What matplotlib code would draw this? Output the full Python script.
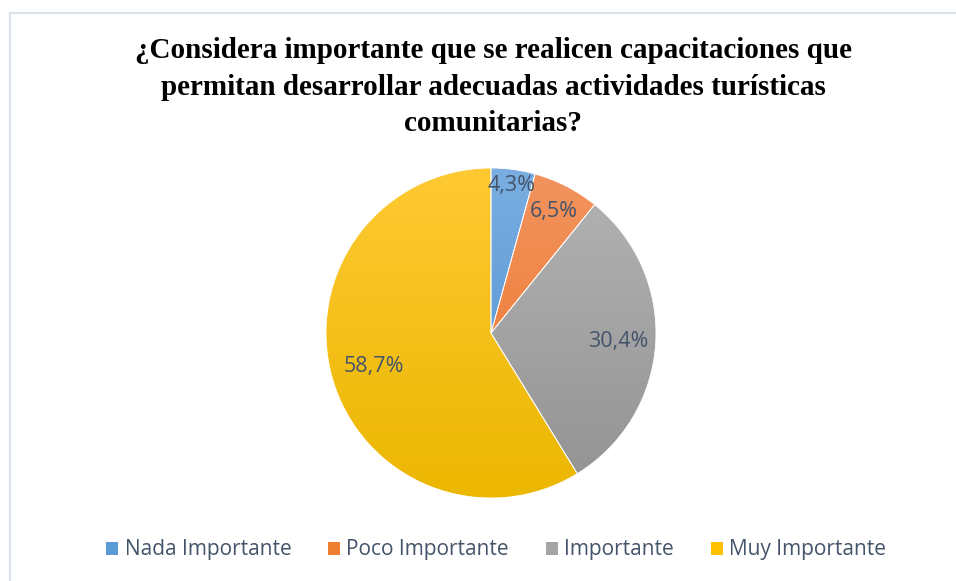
import matplotlib.pyplot as plt
import numpy as np
from matplotlib.colors import LinearSegmentedColormap
from matplotlib.patches import Rectangle
from matplotlib.lines import Line2D

categories = ["Nada Importante", "Poco Importante", "Importante", "Muy Importante"]
values = [4.3, 6.5, 30.4, 58.7]
pct_labels = ["4,3%", "6,5%", "30,4%", "58,7%"]

# gradient colours per slice (top of pie -> bottom of pie)
top_colors = ["#7AAEE0", "#F29460", "#B4B4B4", "#FFC933"]
bot_colors = ["#4A8DD0", "#EC7222", "#929292", "#EBB700"]
legend_colors = ["#5B9BD5", "#ED7D31", "#A5A5A5", "#FFC000"]
label_dist = [0.90, 0.83, 0.77, 0.74]

W, H = 956, 581
fig = plt.figure(figsize=(W / 100, H / 100), dpi=100)

# chart border
fig.add_artist(Line2D([10 / W, 10 / W], [0, 1 - 12.5 / H], transform=fig.transFigure,
                      color="#DCE2E9", lw=1.5))
fig.add_artist(Line2D([10 / W, 1], [1 - 12.5 / H, 1 - 12.5 / H], transform=fig.transFigure,
                      color="#DCE2E9", lw=1.5))

cx, cy, r = 491, 333, 165
ax = fig.add_axes([(cx - r) / W, (H - cy - r) / H, 2 * r / W, 2 * r / H])
ax.axis("off")

wedges, _ = ax.pie(values, startangle=90, counterclock=False, radius=1,
                   wedgeprops=dict(linewidth=0.6, edgecolor="white"))

grad = np.linspace(1, 0, 256).reshape(-1, 1)
for w, c1, c2 in zip(wedges, top_colors, bot_colors):
    w.set_facecolor("none")
    cmap = LinearSegmentedColormap.from_list("g", [c2, c1])
    im = ax.imshow(grad, cmap=cmap, extent=[-1, 1, -1, 1], origin="upper",
                   aspect="auto", zorder=0)
    im.set_clip_path(w)

ax.set_xlim(-1, 1)
ax.set_ylim(-1, 1)
ax.set_aspect("equal")

for w, txt, d in zip(wedges, pct_labels, label_dist):
    ang = np.deg2rad((w.theta1 + w.theta2) / 2)
    ax.text(d * np.cos(ang), d * np.sin(ang), txt, ha="center", va="center",
            fontsize=15.5, color="#44546A", family="Open Sans")

fig.text(493 / W, 1 - 87 / H,
         "¿Considera importante que se realicen capacitaciones que\n"
         "permitan desarrollar adecuadas actividades turísticas\n"
         "comunitarias?",
         ha="center", va="center", fontsize=21, fontweight="bold",
         family="Liberation Serif", linespacing=1.45)

handles = [Rectangle((0, 0), 1, 1, facecolor=c) for c in legend_colors]
leg = fig.legend(handles, categories, loc="center", bbox_to_anchor=(496 / W, 1 - 550 / H),
                 ncol=4, frameon=False, handlelength=0.6, handleheight=0.6,
                 handletextpad=0.3, columnspacing=1.75,
                 prop={"family": "Open Sans", "size": 15})
for t in leg.get_texts():
    t.set_color("#44546A")

fig.savefig("out.png", dpi=100)
